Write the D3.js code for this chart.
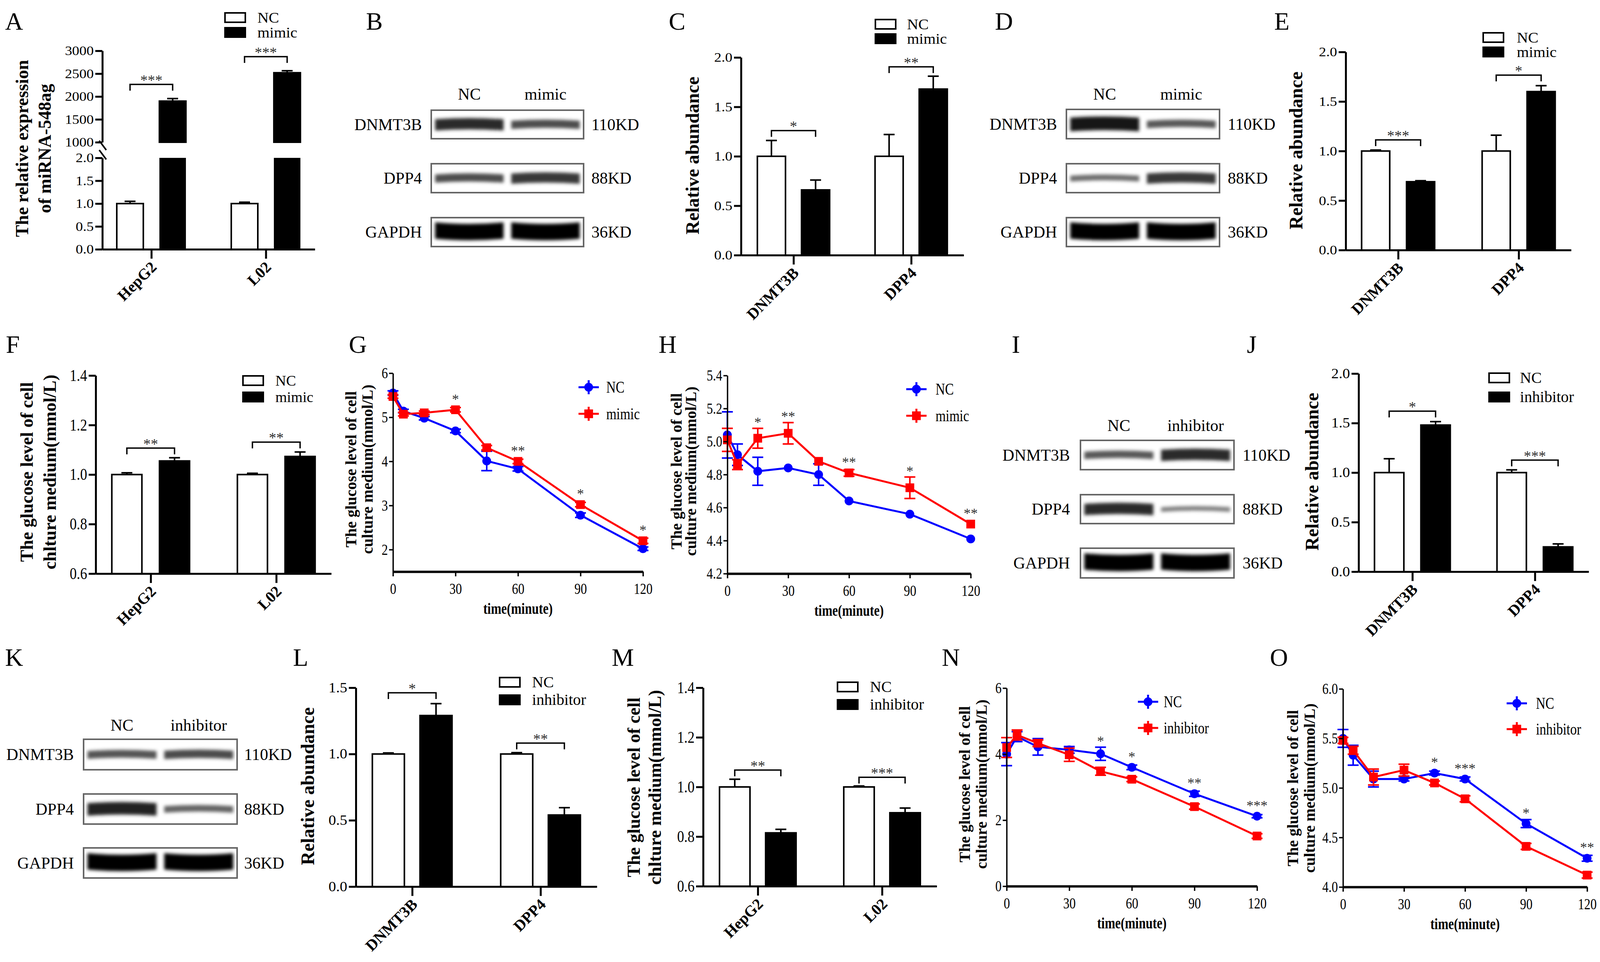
<!DOCTYPE html>
<meta charset="utf-8">
<style>
  body { margin: 0; background: #fff; }
  svg text { font-family: 'Liberation Serif', 'Times New Roman', serif; }
</style>
<body>
<div id="fig"></div>
<script src="https://d3js.org/d3.v7.min.js"></script>
<script>

// ---------------- data ----------------
var cellCats = ["HepG2", "L02"];
var protCats = ["DNMT3B", "DPP4"];
var mimicGroups = ["NC", "mimic"];
var inhGroups = ["NC", "inhibitor"];

// A  miRNA-548ag expression (broken axis)
var aNC = [1.0, 1.0], aNCErr = [0.05, 0.03];
var aMimic = [1900, 2520], aMimicErr = [55, 45];
var aSig = ["***", "***"], aSigAt = [2265, 2872];
var aTicksLow = [0, 0.5, 1.0, 1.5, 2.0];
var aTicksHigh = [1000, 1500, 2000, 2500, 3000];

// C, E, J, L  relative abundance
var relTicks = [0, 0.5, 1.0, 1.5, 2.0];
var relTicksL = [0, 0.5, 1.0, 1.5];
var cNC = [1.0, 1.0], cNCErr = [0.16, 0.22], cMimic = [0.66, 1.68], cMimicErr = [0.10, 0.13];
var cSig = ["*", "**"], cSigAt = [1.26, 1.905];
var eNC = [1.0, 1.0], eNCErr = [0.01, 0.16], eMimic = [0.69, 1.60], eMimicErr = [0.01, 0.06];
var eSig = ["***", "*"], eSigAt = [1.112, 1.766];
var jNC = [1.0, 1.0], jNCErr = [0.14, 0.028], jInh = [1.48, 0.25], jInhErr = [0.035, 0.03];
var jSig = ["*", "***"], jSigAt = [1.62, 1.126];
var lNC = [1.0, 1.0], lNCErr = [0.008, 0.01], lInh = [1.29, 0.54], lInhErr = [0.09, 0.055];
var lSig = ["*", "**"], lSigAt = [1.462, 1.082];

// F, M  glucose level bars
var gluTicks = [0.6, 0.8, 1.0, 1.2, 1.4];
var fNC = [1.0, 1.0], fNCErr = [0.007, 0.005], fMimic = [1.055, 1.073], fMimicErr = [0.013, 0.018];
var fSig = ["**", "**"], fSigAt = [1.107, 1.131];
var mNC = [1.0, 1.0], mNCErr = [0.031, 0.004], mInh = [0.815, 0.896], mInhErr = [0.014, 0.019];
var mSig = ["**", "***"], mSigAt = [1.068, 1.039];

// G, H, N, O  glucose time courses
var times = [0, 5, 15, 30, 45, 60, 90, 120];
var timeTicks = [0, 30, 60, 90, 120];
var gNC = [5.55, 5.14, 4.98, 4.69, 4.01, 3.83, 2.78, 2.02];
var gNCErr = [0.05, 0.04, 0.04, 0.04, 0.22, 0.05, 0.05, 0.04];
var gMimic = [5.47, 5.07, 5.10, 5.17, 4.31, 4.00, 3.02, 2.20];
var gMimicErr = [0.04, 0.04, 0.04, 0.05, 0.05, 0.05, 0.05, 0.06];
var gSigT = [30, 60, 90, 120], gSig = ["*", "**", "*", "*"];

var hNC = [5.04, 4.92, 4.82, 4.84, 4.80, 4.64, 4.56, 4.41];
var hNCErr = [0.14, 0.065, 0.085, 0.01, 0.065, 0.01, 0.01, 0.01];
var hMimic = [5.01, 4.86, 5.02, 5.05, 4.88, 4.81, 4.72, 4.50];
var hMimicErr = [0.07, 0.03, 0.06, 0.065, 0.01, 0.02, 0.065, 0.015];
var hSigT = [15, 30, 60, 90, 120], hSig = ["*", "**", "**", "*", "**"];

var nNC = [4.00, 4.53, 4.22, 4.13, 4.01, 3.60, 2.80, 2.12];
var nNCErr = [0.35, 0.15, 0.25, 0.10, 0.20, 0.07, 0.08, 0.05];
var nInh = [4.20, 4.58, 4.33, 3.98, 3.48, 3.24, 2.41, 1.52];
var nInhErr = [0.30, 0.15, 0.10, 0.20, 0.12, 0.07, 0.08, 0.07];
var nSigT = [45, 60, 90, 120], nSig = ["*", "*", "**", "***"];

var oNC = [5.50, 5.33, 5.09, 5.09, 5.15, 5.09, 4.64, 4.29];
var oNCErr = [0.09, 0.10, 0.08, 0.02, 0.02, 0.02, 0.04, 0.03];
var oInh = [5.48, 5.38, 5.11, 5.18, 5.05, 4.89, 4.41, 4.12];
var oInhErr = [0.03, 0.04, 0.08, 0.06, 0.02, 0.03, 0.03, 0.03];
var oSigT = [45, 60, 90, 120], oSig = ["*", "***", "*", "**"];

// western blots: band darkness per row (DNMT3B, DPP4, GAPDH) x lane
var blotRows = ["DNMT3B", "DPP4", "GAPDH"];
var blotKD = ["110KD", "88KD", "36KD"];
var bBands = [[0.8, 0.65], [0.65, 0.75], [1, 1]];
var dBands = [[0.9, 0.6], [0.5, 0.75], [1, 1]];
var iBands = [[0.6, 0.8], [0.8, 0.4], [1, 1]];
var kBands = [[0.62, 0.66], [0.85, 0.55], [1, 1]];

var panelLetters = ["A", "B", "C", "D", "E", "F", "G", "H", "I", "J", "K", "L", "M", "N", "O"];

// ---------------- drawing ----------------
var W = 4110, H = 2462;
var svg = d3.select("#fig").append("svg").attr("width", W).attr("height", H);
svg.append("rect").attr("width", W).attr("height", H).attr("fill", "#fff");
svg.append("defs").append("filter").attr("id", "blur")
    .attr("x", "-20%").attr("y", "-80%").attr("width", "140%").attr("height", "260%")
  .append("feGaussianBlur").attr("stdDeviation", 4);

var fmt1 = d3.format(".1f"), fmt0 = d3.format("d");

function txt(g, x, y, s, o) {
  o = o || {};
  var tr = "translate(" + x + "," + y + ")";
  if (o.rot) tr += " rotate(" + o.rot + ")";
  if (o.sx) tr += " scale(" + o.sx + ",1)";
  return g.append("text")
    .attr("transform", tr)
    .attr("text-anchor", o.anchor || "start")
    .attr("fill", o.fill || "#000")
    .style("font-size", (o.size || 36) + "px")
    .style("font-weight", o.bold ? "bold" : "normal")
    .text(s);
}

function leftAxis(g, scale, x, vals, fmt, st) {
  var a = g.append("g").attr("transform", "translate(" + x + ",0)")
    .call(d3.axisLeft(scale).tickValues(vals).tickFormat(fmt)
      .tickSize(st.tick).tickPadding(st.pad).tickSizeOuter(0));
  a.attr("font-family", null).attr("font-size", null);
  a.select(".domain").attr("stroke-width", st.w);
  a.selectAll(".tick line").attr("stroke-width", st.w);
  var sx = st.sx || 1;
  a.selectAll(".tick text").style("font-size", st.size + "px")
    .attr("x", -(st.tick + st.pad) / sx)
    .attr("transform", "scale(" + sx + ",1)");
  return a;
}

function catAxis(g, xc, yBot, cats) {
  var a = g.append("g").attr("transform", "translate(0," + yBot + ")")
    .call(d3.axisBottom(xc).tickSize(24).tickSizeOuter(0).tickFormat(""));
  a.select(".domain").attr("stroke-width", 5);
  a.selectAll(".tick line").attr("stroke-width", 5);
  cats.forEach(function (c) {
    txt(g, xc(c) + 16, yBot + 48, c, { size: 40, bold: true, anchor: "end", rot: -45 });
  });
}

function errBar(g, cx, y0, y1, color, both) {
  g.append("path")
    .attr("d", "M" + cx + "," + (both ? both : y0) + "V" + y1 + "M" + (cx - 14) + "," + y1 + "H" + (cx + 14) +
      (both ? "M" + (cx - 14) + "," + both + "H" + (cx + 14) : ""))
    .attr("stroke", color || "#000").attr("stroke-width", 4).attr("fill", "none");
}

function sigBracket(g, xa, xb, yy, s) {
  g.append("path").attr("d", "M" + xa + "," + (yy + 16) + "V" + yy + "H" + xb + "V" + (yy + 16))
    .attr("stroke", "#000").attr("stroke-width", 3.5).attr("fill", "none");
  txt(g, (xa + xb) / 2, yy + 2, s, { anchor: "middle", size: 38, fill: "#333" });
}

function barLegend(g, L, names) {
  g.append("rect").attr("x", L.x).attr("y", L.y1).attr("width", 52).attr("height", 24)
    .attr("fill", "#fff").attr("stroke", "#000").attr("stroke-width", 4);
  g.append("rect").attr("x", L.x).attr("y", L.y2).attr("width", 52).attr("height", 24)
    .attr("fill", "#000").attr("stroke", "#000").attr("stroke-width", 4);
  txt(g, L.tx, L.y1 + 25, names[0], { size: L.size, sx: L.sx });
  txt(g, L.tx, L.y2 + 25, names[1], { size: L.size, sx: L.sx });
}

function yTitle(g, lines, xs, cy, size) {
  lines.forEach(function (l, i) {
    txt(g, xs[i] + 0.3 * size, cy, l, { rot: -90, anchor: "middle", bold: true, size: size });
  });
}

function barPanel(o) {
  var g = svg.append("g");
  var y = d3.scaleLinear().domain(o.domain).range([o.yBot, o.yTop]);
  var xc = d3.scalePoint().domain(o.cats).range([o.x, o.xEnd]).padding(o.pad);
  var xs = d3.scaleBand().domain(o.groups).range([-o.gw / 2, o.gw / 2]).paddingInner(o.pin);
  var bw = xs.bandwidth();
  var rows = [];
  o.cats.forEach(function (c, i) {
    rows.push({ c: c, grp: o.groups[0], v: o.v1[i], e: o.e1[i], fill: "#fff" });
    rows.push({ c: c, grp: o.groups[1], v: o.v2[i], e: o.e2[i], fill: "#000" });
  });
  var left = function (d) { return xc(d.c) + xs(d.grp); };
  rows.forEach(function (d) { errBar(g, left(d) + bw / 2, y(d.v), y(d.v + d.e)); });
  g.selectAll("rect.bar").data(rows).join("rect").attr("class", "bar")
    .attr("x", left).attr("width", bw)
    .attr("y", function (d) { return y(d.v); })
    .attr("height", function (d) { return o.yBot - y(d.v); })
    .attr("fill", function (d) { return d.fill; })
    .attr("stroke", "#000").attr("stroke-width", 4);
  o.cats.forEach(function (c, i) {
    sigBracket(g, xc(c) + xs(o.groups[0]) + bw / 2, xc(c) + xs(o.groups[1]) + bw / 2, y(o.sigAt[i]), o.sig[i]);
  });
  leftAxis(g, y, o.x, o.ticks, fmt1, { tick: 18, pad: 4, w: 5, size: o.tsize, sx: o.tsx });
  catAxis(g, xc, o.yBot, o.cats);
  barLegend(g, o.legend, o.groups);
  yTitle(g, o.title, o.titleX, o.titleY, o.titleSize);
}

function linePanel(o) {
  var g = svg.append("g");
  var x = d3.scaleLinear().domain([0, 120]).range([o.x, o.xEnd]);
  var y = d3.scaleLinear().domain(o.domain).range([o.yBot, o.yTop]);
  var series = [
    { v: o.v1, e: o.e1, color: "#0000ff", sym: d3.symbol().type(d3.symbolCircle).size(400)() },
    { v: o.v2, e: o.e2, color: "#ff0000", sym: d3.symbol().type(d3.symbolSquare).size(500)() }
  ];
  var line = d3.line().x(function (d, i) { return x(times[i]); }).y(function (d) { return y(d); });
  series.forEach(function (s) {
    g.append("path").datum(s.v).attr("d", line)
      .attr("fill", "none").attr("stroke", s.color).attr("stroke-width", 5);
    s.v.forEach(function (v, i) {
      if (s.e[i] > 0.015) errBar(g, x(times[i]), y(v), y(v + s.e[i]), s.color, y(v - s.e[i]));
    });
    g.selectAll(null).data(s.v).join("path")
      .attr("d", s.sym)
      .attr("transform", function (d, i) { return "translate(" + x(times[i]) + "," + y(d) + ")"; })
      .attr("fill", s.color);
  });
  o.sigT.forEach(function (t, k) {
    var i = times.indexOf(t);
    var top = d3.min(series, function (s) { return Math.min(y(s.v[i] + s.e[i]), y(s.v[i]) - 12); });
    txt(g, x(t), top - 3, o.sig[k], { anchor: "middle", size: 36, fill: "#333" });
  });
  leftAxis(g, y, o.x, o.yTicks, o.fmt, { tick: 10, pad: 3, w: 3.5, size: 40, sx: 0.8 });
  var xa = g.append("g").attr("transform", "translate(0," + o.yBot + ")")
    .call(d3.axisBottom(x).tickValues(timeTicks).tickSize(12).tickPadding(17).tickSizeOuter(0));
  xa.attr("font-family", null).attr("font-size", null);
  xa.select(".domain").attr("stroke-width", 6);
  xa.selectAll(".tick line").attr("stroke-width", 3.5);
  xa.selectAll(".tick text").style("font-size", "40px").attr("transform", "scale(0.8,1)");
  txt(g, (o.x + o.xEnd) / 2, o.yBot + 108, "time(minute)", { anchor: "middle", bold: true, size: 40, sx: 0.8 });
  series.forEach(function (s, k) {
    var mx = o.legX, my = o.legY[k];
    g.append("path").attr("d", "M" + (mx - 26) + "," + my + "H" + (mx + 26) + "M" + mx + "," + (my - 18) + "V" + (my + 18))
      .attr("stroke", s.color).attr("stroke-width", 5);
    g.append("path").attr("d", s.sym).attr("transform", "translate(" + mx + "," + my + ")").attr("fill", s.color);
    txt(g, o.legTX, my + 14, o.names[k], { size: 42, sx: 0.8 });
  });
  yTitle(g, ["The glucose level of cell", "culture medium(mmol/L)"], o.titleX, o.titleY, 40);
}

// a blurred, slightly bowed band
function bandPath(x0, x1, cy, h, bow) {
  var xm = (x0 + x1) / 2, t = cy - h / 2, b = cy + h / 2;
  return "M" + x0 + "," + (t + bow) + "Q" + xm + "," + (t - bow) + " " + x1 + "," + (t + bow) +
    "L" + x1 + "," + (b + bow) + "Q" + xm + "," + (b - bow) + " " + x0 + "," + (b + bow) + "Z";
}

function blot(o) {
  var g = svg.append("g");
  var lx = d3.scaleBand().domain(o.lanes).range([o.x0, o.x1]).paddingInner(0.06).paddingOuter(0.03);
  o.lanes.forEach(function (l) {
    txt(g, lx(l) + lx.bandwidth() / 2, o.headY, l, { anchor: "middle", size: 42 });
  });
  blotRows.forEach(function (r, i) {
    var top = o.rowY[i][0], bot = o.rowY[i][1], cy = (top + bot) / 2;
    g.append("rect").attr("x", o.x0).attr("y", top).attr("width", o.x1 - o.x0).attr("height", bot - top)
      .attr("fill", "#fff").attr("stroke", "#666").attr("stroke-width", 4);
    o.bands[i].forEach(function (d, j) {
      var bh = 6 + 36 * d * d;
      var bow = i === 2 ? -4 : 3;
      g.append("path")
        .attr("d", bandPath(lx(o.lanes[j]) + 4, lx(o.lanes[j]) + lx.bandwidth() - 4, cy - (i === 2 ? 0 : 2), bh, bow))
        .attr("fill", d3.interpolateGreys(0.3 + 0.7 * d)).attr("filter", "url(#blur)");
    });
    txt(g, o.labelX, cy + 14, r, { anchor: "end", size: 42 });
    txt(g, o.kdX, cy + 14, blotKD[i], { size: 42 });
  });
}

// panel A: broken y axis
(function () {
  var g = svg.append("g");
  var yLow = d3.scaleLinear().domain([0, 2]).range([638, 404]);
  var yHigh = d3.scaleLinear().domain([1000, 3000]).range([364, 130]);
  var xc = d3.scalePoint().domain(cellCats).range([262, 806]).padding(0.428);
  var xs = d3.scaleBand().domain(mimicGroups).range([-88.5, 88.5]).paddingInner(0.377);
  var bw = xs.bandwidth();
  cellCats.forEach(function (c, i) {
    var x1 = xc(c) + xs("NC"), x2 = xc(c) + xs("mimic");
    errBar(g, x1 + bw / 2, yLow(aNC[i]), yLow(aNC[i] + aNCErr[i]));
    g.append("rect").attr("x", x1).attr("width", bw).attr("y", yLow(aNC[i]))
      .attr("height", yLow(0) - yLow(aNC[i])).attr("fill", "#fff").attr("stroke", "#000").attr("stroke-width", 4);
    g.append("rect").attr("x", x2).attr("width", bw).attr("y", yLow(2))
      .attr("height", yLow(0) - yLow(2)).attr("fill", "#000");
    errBar(g, x2 + bw / 2, yHigh(aMimic[i]), yHigh(aMimic[i] + aMimicErr[i]));
    g.append("rect").attr("x", x2).attr("width", bw).attr("y", yHigh(aMimic[i]))
      .attr("height", yHigh(1000) - yHigh(aMimic[i])).attr("fill", "#000").attr("stroke", "#000").attr("stroke-width", 4);
    sigBracket(g, x1 + bw / 2, x2 + bw / 2, yHigh(aSigAt[i]), aSig[i]);
  });
  var st = { tick: 18, pad: 4, w: 5, size: 33, sx: 1.12 };
  leftAxis(g, yLow, 262, aTicksLow, fmt1, st);
  leftAxis(g, yHigh, 262, aTicksHigh, fmt0, st);
  catAxis(g, xc, 638, cellCats);
  [yHigh(1000) + 8, yLow(2) - 8].forEach(function (yy) {
    g.append("line").attr("x1", 254).attr("y1", yy - 12).attr("x2", 272).attr("y2", yy + 12)
      .attr("stroke", "#000").attr("stroke-width", 4);
  });
  barLegend(g, { x: 576, y1: 33, y2: 71, tx: 659, size: 37, sx: 1.08 }, mimicGroups);
  yTitle(g, ["The relative expression", "of miRNA-548ag"], [58, 116], 380, 46);
})();

blot({ x0: 1104, x1: 1494, rowY: [[282, 355], [419, 493], [557, 631]], labelX: 1080, kdX: 1514, headY: 255, lanes: mimicGroups, bands: bBands });
barPanel({ x: 1897, xEnd: 2467, yTop: 147, yBot: 653, domain: [0, 2], ticks: relTicks, cats: protCats, groups: mimicGroups,
  v1: cNC, e1: cNCErr, v2: cMimic, e2: cMimicErr, sig: cSig, sigAt: cSigAt, pad: 0.446, gw: 185, pin: 0.363, tsize: 34, tsx: 1.1,
  legend: { x: 2241, y1: 50, y2: 87, tx: 2322, size: 37, sx: 1.08 }, title: ["Relative abundance"], titleX: [1775], titleY: 398, titleSize: 48 });
blot({ x0: 2730, x1: 3122, rowY: [[280, 355], [419, 493], [557, 631]], labelX: 2706, kdX: 3143, headY: 255, lanes: mimicGroups, bands: dBands });
barPanel({ x: 3445, xEnd: 4022, yTop: 133, yBot: 640, domain: [0, 2], ticks: relTicks, cats: protCats, groups: mimicGroups,
  v1: eNC, e1: eNCErr, v2: eMimic, e2: eMimicErr, sig: eSig, sigAt: eSigAt, pad: 0.435, gw: 187, pin: 0.374, tsize: 34, tsx: 1.1,
  legend: { x: 3797, y1: 84, y2: 121, tx: 3883, size: 37, sx: 1.08 }, title: ["Relative abundance"], titleX: [3320], titleY: 385, titleSize: 48 });

barPanel({ x: 245, xEnd: 848, yTop: 961, yBot: 1468, domain: [0.6, 1.4], ticks: gluTicks, cats: cellCats, groups: mimicGroups,
  v1: fNC, e1: fNCErr, v2: fMimic, e2: fMimicErr, sig: fSig, sigAt: fSigAt, pad: 0.438, gw: 199, pin: 0.369, tsize: 42, tsx: 0.85,
  legend: { x: 622, y1: 962, y2: 1004, tx: 705, size: 38, sx: 1.0 },
  title: ["The glucose level of cell", "chlture medium(mmol/L)"], titleX: [70, 129], titleY: 1208, titleSize: 46 });
linePanel({ x: 1006, xEnd: 1646, yTop: 955, yBot: 1463, domain: [1.5, 6], yTicks: [2, 3, 4, 5, 6], fmt: fmt0,
  v1: gNC, e1: gNCErr, v2: gMimic, e2: gMimicErr, sigT: gSigT, sig: gSig, names: mimicGroups,
  legX: 1507, legY: [991, 1059], legTX: 1552, titleX: [900, 942], titleY: 1201 });
linePanel({ x: 1862, xEnd: 2485, yTop: 961, yBot: 1468, domain: [4.2, 5.4], yTicks: [4.2, 4.4, 4.6, 4.8, 5.0, 5.2, 5.4], fmt: fmt1,
  v1: hNC, e1: hNCErr, v2: hMimic, e2: hMimicErr, sigT: hSigT, sig: hSig, names: mimicGroups,
  legX: 2346, legY: [996, 1064], legTX: 2395, titleX: [1733, 1770], titleY: 1206 });
blot({ x0: 2766, x1: 3159, rowY: [[1127, 1202], [1266, 1340], [1403, 1479]], labelX: 2739, kdX: 3181, headY: 1103, lanes: inhGroups, bands: iBands });
barPanel({ x: 3478, xEnd: 4067, yTop: 956, yBot: 1463, domain: [0, 2], ticks: relTicks, cats: protCats, groups: inhGroups,
  v1: jNC, e1: jNCErr, v2: jInh, e2: jInhErr, sig: jSig, sigAt: jSigAt, pad: 0.439, gw: 194, pin: 0.367, tsize: 35, tsx: 1.1,
  legend: { x: 3812, y1: 955, y2: 1004, tx: 3891, size: 39, sx: 1.03 }, title: ["Relative abundance"], titleX: [3361], titleY: 1207, titleSize: 48 });

blot({ x0: 214, x1: 607, rowY: [[1892, 1970], [2032, 2109], [2170, 2247]], labelX: 189, kdX: 625, headY: 1870, lanes: inhGroups, bands: kBands });
barPanel({ x: 911, xEnd: 1528, yTop: 1760, yBot: 2269, domain: [0, 1.5], ticks: relTicksL, cats: protCats, groups: inhGroups,
  v1: lNC, e1: lNCErr, v2: lInh, e2: lInhErr, sig: lSig, sigAt: lSigAt, pad: 0.439, gw: 204, pin: 0.328, tsize: 35, tsx: 1.1,
  legend: { x: 1279, y1: 1734, y2: 1779, tx: 1362, size: 39, sx: 1.03 }, title: ["Relative abundance"], titleX: [790], titleY: 2012, titleSize: 48 });
barPanel({ x: 1800, xEnd: 2398, yTop: 1760, yBot: 2268, domain: [0.6, 1.4], ticks: gluTicks, cats: cellCats, groups: inhGroups,
  v1: mNC, e1: mNCErr, v2: mInh, e2: mInhErr, sig: mSig, sigAt: mSigAt, pad: 0.44, gw: 196, pin: 0.339, tsize: 42, tsx: 0.85,
  legend: { x: 2144, y1: 1746, y2: 1791, tx: 2227, size: 39, sx: 1.03 },
  title: ["The glucose level of cell", "chlture medium(mmol/L)"], titleX: [1624, 1678], titleY: 2015, titleSize: 46 });
linePanel({ x: 2577, xEnd: 3218, yTop: 1761, yBot: 2268, domain: [0, 6], yTicks: [0, 2, 4, 6], fmt: fmt0,
  v1: nNC, e1: nNCErr, v2: nInh, e2: nInhErr, sigT: nSigT, sig: nSig, names: inhGroups,
  legX: 2939, legY: [1796, 1863], legTX: 2979, titleX: [2471, 2514], titleY: 2007 });
linePanel({ x: 3438, xEnd: 4063, yTop: 1763, yBot: 2270, domain: [4, 6], yTicks: [4.0, 4.5, 5.0, 5.5, 6.0], fmt: fmt1,
  v1: oNC, e1: oNCErr, v2: oInh, e2: oInhErr, sigT: oSigT, sig: oSig, names: inhGroups,
  legX: 3883, legY: [1800, 1866], legTX: 3932, titleX: [3311, 3354], titleY: 2017 });

// panel letters
var letterPos = [[13, 76], [937, 76], [1712, 76], [2547, 76], [3262, 76],
  [15, 903], [893, 903], [1686, 903], [2590, 903], [3192, 903],
  [13, 1704], [750, 1704], [1566, 1704], [2411, 1704], [3251, 1704]];
panelLetters.forEach(function (l, i) {
  txt(svg, letterPos[i][0], letterPos[i][1], l, { size: 64 });
});

</script>
</body>
